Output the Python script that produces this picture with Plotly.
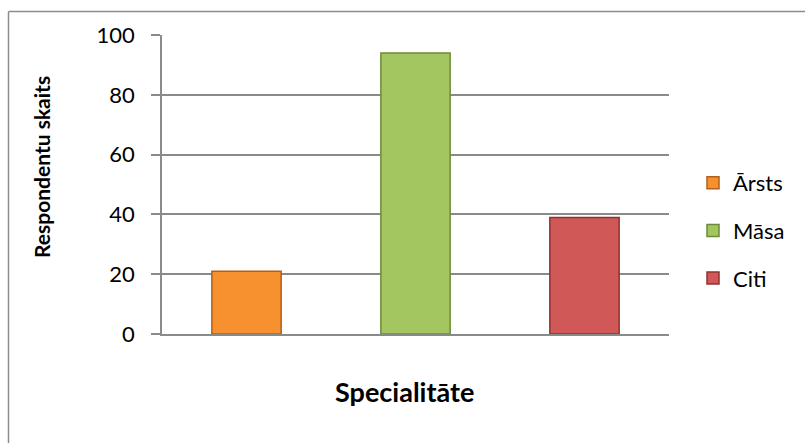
import plotly.graph_objects as go

categories = ["Ārsts", "Māsa", "Citi"]
values = [21, 94, 39]
fill_colors = ["#F7912F", "#A3C661", "#D05957"]
line_colors = ["#B0601A", "#6E8A3A", "#8E3230"]
y_ticks = [0, 20, 40, 60, 80, 100]

FONT = "Lato, Carlito, Calibri, 'Open Sans', sans-serif"
GRID = "#8A8A8A"

W, H = 805, 443
L, R, T, B = 162, 136, 35, 109
PW, PH = W - L - R, H - T - B

def px_x(x):
    return (x - L) / PW

def px_y(y):
    return (H - B - y) / PH

fig = go.Figure()
for i, (cat, val) in enumerate(zip(categories, values)):
    fig.add_trace(go.Bar(
        x=[cat], y=[val], name=cat, width=0.41,
        marker=dict(color=fill_colors[i], line=dict(color=line_colors[i], width=1.5)),
        legendgroup=cat,
    ))

fig.update_layout(
    width=W, height=H,
    margin=dict(l=L, r=R, t=T, b=B, pad=0),
    paper_bgcolor="white", plot_bgcolor="white",
    barmode="overlay",
    font=dict(family=FONT, size=22, color="#000000"),
    showlegend=True,
    legend=dict(
        x=px_x(693), xanchor="left",
        y=px_y(162), yanchor="top",
        font=dict(family=FONT, size=22),
        tracegroupgap=16,
        bgcolor="rgba(0,0,0,0)",
    ),
    xaxis=dict(
        categoryorder="array", categoryarray=categories,
        showticklabels=False, ticks="",
        showline=True, linecolor=GRID, linewidth=1.5,
        showgrid=False, zeroline=False,
        range=[-0.5, 2.5],
    ),
    yaxis=dict(
        range=[0, 100], tickvals=y_ticks,
        ticks="outside", ticklen=9, tickcolor=GRID, tickwidth=1.5,
        showline=True, linecolor=GRID, linewidth=1.5,
        showgrid=True, gridcolor=GRID, gridwidth=1.5,
        zeroline=False,
        ticklabelstandoff=12,
        tickfont=dict(family=FONT, size=22),
    ),
    annotations=[
        dict(text="<b>Respondentu skaits</b>", textangle=-90,
             x=px_x(41), y=px_y(167), xref="paper", yref="paper",
             showarrow=False, font=dict(family=FONT, size=21),
             xanchor="center", yanchor="middle"),
        dict(text="<b>Specialitāte</b>",
             x=px_x(404), y=px_y(391), xref="paper", yref="paper",
             showarrow=False, font=dict(family=FONT, size=27),
             xanchor="center", yanchor="middle"),
    ],
    shapes=[
        dict(type="line", xref="paper", yref="paper",
             x0=px_x(8.5), x1=px_x(8.5), y0=px_y(443), y1=px_y(11.5),
             line=dict(color="#8C8C8C", width=1.5)),
        dict(type="line", xref="paper", yref="paper",
             x0=px_x(8.5), x1=px_x(805), y0=px_y(11.5), y1=px_y(11.5),
             line=dict(color="#8C8C8C", width=1.5)),
    ],
)

fig.write_html("out.html")
